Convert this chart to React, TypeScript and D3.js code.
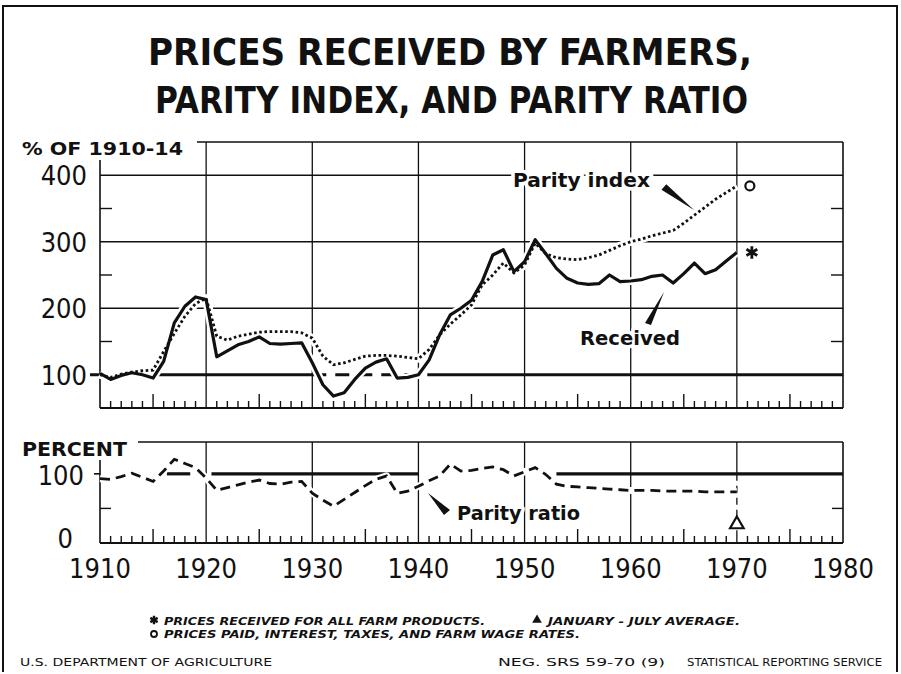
import React from "react";
import * as d3 from "d3";

// yearly values (1910-14 = 100)
const years = [
  1910, 1911, 1912, 1913, 1914, 1915, 1916, 1917, 1918, 1919,
  1920, 1921, 1922, 1923, 1924, 1925, 1926, 1927, 1928, 1929,
  1930, 1931, 1932, 1933, 1934, 1935, 1936, 1937, 1938, 1939,
  1940, 1941, 1942, 1943, 1944, 1945, 1946, 1947, 1948, 1949,
  1950, 1951, 1952, 1953, 1954, 1955, 1956, 1957, 1958, 1959,
  1960, 1961, 1962, 1963, 1964, 1965, 1966, 1967, 1968, 1969,
  1970,
];

const received = [
  102, 93, 99, 103, 100, 95, 120, 178, 203, 217,
  213, 127, 136, 145, 150, 157, 147, 146, 147, 148,
  118, 85, 68, 73, 93, 110, 119, 124, 95, 96,
  100, 122, 160, 190, 200, 212, 240, 280, 288, 255,
  270, 303, 282, 260, 245, 238, 236, 237, 250, 240,
  241, 243, 248, 250, 238, 252, 268, 252, 258, 271,
  284,
];

const parityIndex = [
  100, 96, 101, 104, 106, 107, 135, 162, 188, 207,
  215, 158, 152, 158, 161, 164, 165, 165, 165, 163,
  155, 128, 115, 118, 123, 128, 129, 129, 128, 126,
  124, 138, 160, 176, 190, 205, 235, 250, 268, 253,
  265, 298, 282, 276, 274, 273, 276, 280, 287, 294,
  300, 304, 309, 313, 317, 328, 340, 352, 364, 374,
  384,
];

const parityRatio = [
  93, 92, 96, 101, 95, 89, 104, 121, 115, 109,
  94, 76, 80, 84, 88, 91, 86, 85, 88, 89,
  72, 62, 53, 63, 73, 83, 92, 97, 72, 75,
  82, 90, 97, 114, 104, 105, 108, 110, 106, 97,
  103, 109, 99, 85, 82, 81, 80, 79, 78, 77,
  76, 76, 76, 75, 75, 75, 75, 74, 74, 74,
  74,
];

const decades = [1910, 1920, 1930, 1940, 1950, 1960, 1970, 1980];
const upperGrid = [200, 300, 400];
const upperLabels = [100, 200, 300, 400];
const upperMidTicks = [150, 250, 350];
const lowerLabels = [0, 100];
const lowerMidTicks = [50];
const janJulyAverage = 27;

const FONT = "'DejaVu Sans Condensed', 'Liberation Sans Narrow', 'DejaVu Sans', sans-serif";
const PLAIN = "'DejaVu Sans', 'Liberation Sans', sans-serif";
const INK = "#111";

const x = d3.scaleLinear().domain([1910, 1980]).range([100, 843]);
const yTop = d3.scaleLinear().domain([50, 450]).range([408, 142]);
const yBot = d3.scaleLinear().domain([0, 146]).range([543, 442]);

const allYears = d3.range(1910, 1981);

export default function App() {
  const lineTop = d3
    .line<number>()
    .x((_, i) => x(years[i]))
    .y((d) => yTop(d));
  const lineBot = d3
    .line<number>()
    .x((_, i) => x(years[i]))
    .y((d) => yBot(d));

  const last = years.length - 1;
  const markX = x(years[last]) + 13;

  const yearTicks = (yBase: number) =>
    allYears
      .filter((yr) => yr % 10 !== 0)
      .map((yr) => (
        <line
          key={yr}
          x1={x(yr)}
          x2={x(yr)}
          y1={yBase}
          y2={yBase - (yr % 5 === 0 ? 14 : 7)}
          stroke={INK}
          strokeWidth={1.4}
        />
      ));

  const haloText = {
    stroke: "#fff",
    strokeWidth: 7,
    paintOrder: "stroke" as const,
    strokeLinejoin: "round" as const,
  };

  return (
    <svg
      width={901}
      height={674}
      style={{ position: "absolute", left: 0, top: 0, background: "#fff" }}
    >
      <rect x={0} y={0} width={901} height={674} fill="#fff" />
      {/* outer frame */}
      <path d="M3,672 V6 H897 V672" fill="none" stroke={INK} strokeWidth={2} />

      {/* title */}
      <g fontFamily={FONT} fontWeight="bold" fontSize={38} fill={INK}>
        <text x={148} y={65} textLength={604} lengthAdjust="spacingAndGlyphs">
          PRICES RECEIVED BY FARMERS,
        </text>
        <text x={155} y={113} textLength={593} lengthAdjust="spacingAndGlyphs">
          PARITY INDEX, AND PARITY RATIO
        </text>
      </g>

      {/* ---------- upper panel ---------- */}
      <g stroke={INK} fill="none">
        {upperGrid.map((v) => (
          <line key={v} x1={x(1910)} x2={x(1980)} y1={yTop(v)} y2={yTop(v)} strokeWidth={1.3} />
        ))}
        {decades.slice(1, -1).map((yr) => (
          <line key={yr} x1={x(yr)} x2={x(yr)} y1={yTop(450)} y2={yTop(50)} strokeWidth={1.3} />
        ))}
        <line x1={197} x2={x(1980)} y1={yTop(450)} y2={yTop(450)} strokeWidth={1.6} />
        <line x1={x(1980)} x2={x(1980)} y1={yTop(450)} y2={yTop(50)} strokeWidth={1.6} />
        <line x1={x(1910)} x2={x(1910)} y1={160} y2={yTop(50)} strokeWidth={1.6} />
        <line x1={x(1910)} x2={x(1980)} y1={yTop(50)} y2={yTop(50)} strokeWidth={1.8} />
        {upperMidTicks.map((v) => (
          <g key={v}>
            <line x1={x(1910)} x2={x(1910) + 12} y1={yTop(v)} y2={yTop(v)} strokeWidth={1.4} />
            <line x1={x(1980) - 12} x2={x(1980)} y1={yTop(v)} y2={yTop(v)} strokeWidth={1.4} />
          </g>
        ))}
        {yearTicks(yTop(50))}
        {/* 100 base line */}
        <line x1={x(1910) - 10} x2={x(1930)} y1={yTop(100)} y2={yTop(100)} strokeWidth={3.2} />
        <line
          x1={x(1930)}
          x2={x(1941)}
          y1={yTop(100)}
          y2={yTop(100)}
          strokeWidth={3.2}
          strokeDasharray="14 9"
        />
        <line x1={x(1941)} x2={x(1980)} y1={yTop(100)} y2={yTop(100)} strokeWidth={3.2} />
      </g>

      <g fontFamily={FONT} fontSize={27} fill={INK} textAnchor="end">
        {upperLabels.map((v) => (
          <text key={v} x={87} y={yTop(v) + 10}>
            {v}
          </text>
        ))}
      </g>
      <text
        x={22}
        y={155}
        fontFamily={FONT}
        fontWeight="bold"
        fontSize={17}
        fill={INK}
        textLength={161}
        lengthAdjust="spacingAndGlyphs"
      >
        % OF 1910-14
      </text>

      {/* data halos then lines */}
      <g fill="none" stroke="#fff" strokeWidth={8} strokeLinejoin="round">
        <path d={lineTop(parityIndex) ?? ""} />
        <path d={lineTop(received) ?? ""} />
      </g>
      <path
        d={lineTop(received) ?? ""}
        fill="none"
        stroke={INK}
        strokeWidth={3.2}
        strokeLinejoin="round"
      />
      <path
        d={lineTop(parityIndex) ?? ""}
        fill="none"
        stroke={INK}
        strokeWidth={2.8}
        strokeDasharray="2.6 2.6"
      />
      <circle
        cx={markX}
        cy={yTop(parityIndex[last])}
        r={4.5}
        fill="#fff"
        stroke={INK}
        strokeWidth={2.2}
      />
      <path
        d={d3.symbol(d3.symbolAsterisk, 110)() ?? ""}
        transform={`translate(${markX + 2},${yTop(received[last])})`}
        fill="none"
        stroke={INK}
        strokeWidth={2.8}
      />

      {/* series labels */}
      <g fontFamily={PLAIN} fontWeight="bold" fontSize={19} fill={INK}>
        <text x={513} y={187} textLength={137} lengthAdjust="spacingAndGlyphs" {...haloText}>
          Parity index
        </text>
        <text x={580} y={345} textLength={100} lengthAdjust="spacingAndGlyphs" {...haloText}>
          Received
        </text>
      </g>
      <polygon points="661.5,189.8 666.3,184.2 694,210" fill={INK} />
      <polygon points="645,323 651,325 664,292" fill={INK} />

      {/* ---------- lower panel ---------- */}
      <g stroke={INK} fill="none">
        {decades.slice(1, -2).map((yr) => (
          <line key={yr} x1={x(yr)} x2={x(yr)} y1={yBot(146)} y2={yBot(0)} strokeWidth={1.3} />
        ))}
        <line x1={x(1970)} x2={x(1970)} y1={yBot(146)} y2={yBot(100)} strokeWidth={1.3} />
        <line
          x1={x(1970)}
          x2={x(1970)}
          y1={yBot(100)}
          y2={yBot(janJulyAverage) - 7}
          strokeWidth={1.3}
          strokeDasharray="7 5"
        />
        <line x1={x(1970)} x2={x(1970)} y1={yBot(janJulyAverage) + 6} y2={yBot(0)} strokeWidth={1.3} />
        <line x1={138} x2={x(1980)} y1={yBot(146)} y2={yBot(146)} strokeWidth={1.6} />
        <line x1={x(1980)} x2={x(1980)} y1={yBot(146)} y2={yBot(0)} strokeWidth={1.6} />
        <line x1={x(1910)} x2={x(1910)} y1={460} y2={yBot(0)} strokeWidth={1.6} />
        <line x1={x(1910)} x2={x(1980)} y1={yBot(0)} y2={yBot(0)} strokeWidth={1.8} />
        {lowerMidTicks.map((v) => (
          <g key={v}>
            <line x1={x(1910)} x2={x(1910) + 11} y1={yBot(v)} y2={yBot(v)} strokeWidth={1.4} />
            <line x1={x(1980) - 11} x2={x(1980)} y1={yBot(v)} y2={yBot(v)} strokeWidth={1.4} />
          </g>
        ))}
        {yearTicks(yBot(0))}
        <line x1={x(1910) - 6} x2={x(1910)} y1={yBot(100)} y2={yBot(100)} strokeWidth={1.6} />
        <line x1={x(1916.3)} x2={x(1918.5)} y1={yBot(100)} y2={yBot(100)} strokeWidth={3.2} />
        <line x1={x(1920.5)} x2={x(1940)} y1={yBot(100)} y2={yBot(100)} strokeWidth={3.2} />
        <line x1={x(1953)} x2={x(1980)} y1={yBot(100)} y2={yBot(100)} strokeWidth={3.2} />
      </g>

      <path
        d={lineBot(parityRatio) ?? ""}
        fill="none"
        stroke="#fff"
        strokeWidth={7}
        strokeLinejoin="round"
      />
      <path
        d={lineBot(parityRatio) ?? ""}
        fill="none"
        stroke={INK}
        strokeWidth={2.8}
        strokeDasharray="10 6"
      />
      <path
        d={d3.symbol(d3.symbolTriangle, 80)() ?? ""}
        transform={`translate(${x(1970)},${yBot(janJulyAverage)})`}
        fill="#fff"
        stroke={INK}
        strokeWidth={2.2}
      />

      <g fontFamily={FONT} fontSize={27} fill={INK} textAnchor="end">
        {lowerLabels.map((v) => (
          <text key={v} x={v === 0 ? 73 : 84} y={yBot(v) + (v === 0 ? 5 : 11)}>
            {v}
          </text>
        ))}
      </g>
      <text
        x={22}
        y={456}
        fontFamily={FONT}
        fontWeight="bold"
        fontSize={20}
        fill={INK}
        textLength={105}
        lengthAdjust="spacingAndGlyphs"
      >
        PERCENT
      </text>
      <text
        x={457}
        y={520}
        fontFamily={PLAIN}
        fontWeight="bold"
        fontSize={19}
        fill={INK}
        textLength={123}
        lengthAdjust="spacingAndGlyphs"
        {...haloText}
      >
        Parity ratio
      </text>
      <polygon points="428,493 444,515 450,510" fill={INK} />

      {/* x axis years */}
      <g fontFamily={FONT} fontSize={27} fill={INK} textAnchor="middle">
        {decades.map((yr) => (
          <text key={yr} x={x(yr)} y={578}>
            {yr}
          </text>
        ))}
      </g>

      {/* footnotes */}
      <g fontFamily={PLAIN} fontWeight="bold" fontStyle="italic" fontSize={10} fill={INK}>
        <path
          d={d3.symbol(d3.symbolAsterisk, 50)() ?? ""}
          transform="translate(154,620)"
          fill="none"
          stroke={INK}
          strokeWidth={2.4}
        />
        <text x={164} y={625} textLength={321} lengthAdjust="spacingAndGlyphs">
          PRICES RECEIVED FOR ALL FARM PRODUCTS.
        </text>
        <path
          d={d3.symbol(d3.symbolTriangle, 40)() ?? ""}
          transform="translate(537,620)"
          fill={INK}
        />
        <text x={548} y={625} textLength={192} lengthAdjust="spacingAndGlyphs">
          JANUARY - JULY AVERAGE.
        </text>
        <circle cx={154} cy={634} r={3} fill="none" stroke={INK} strokeWidth={1.8} />
        <text x={164} y={638} textLength={416} lengthAdjust="spacingAndGlyphs">
          PRICES PAID, INTEREST, TAXES, AND FARM WAGE RATES.
        </text>
      </g>

      <g fontFamily={PLAIN} fontSize={10} fill={INK}>
        <text x={20} y={666} textLength={252} lengthAdjust="spacingAndGlyphs">
          U.S. DEPARTMENT OF AGRICULTURE
        </text>
        <text x={498} y={666} textLength={167} lengthAdjust="spacingAndGlyphs">
          NEG. SRS 59-70 (9)
        </text>
        <text x={687} y={666} textLength={195} lengthAdjust="spacingAndGlyphs">
          STATISTICAL REPORTING SERVICE
        </text>
      </g>
    </svg>
  );
}
